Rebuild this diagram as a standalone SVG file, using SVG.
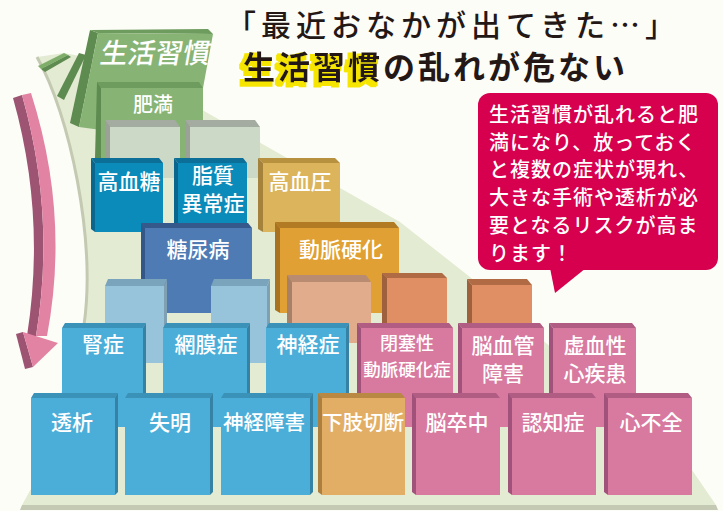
<svg xmlns="http://www.w3.org/2000/svg" width="723" height="511" viewBox="0 0 723 511">
<style>
text{font-family:"Noto Sans CJK JP","Noto Sans",sans-serif}
.t{fill:#fff;font-weight:500;text-anchor:middle;dominant-baseline:central;font-size:21px}
.bl .f{fill:#4baed8}.bl .tp{fill:#3a92b8}.bl .s{fill:#3682a4}
.tl .f{fill:#0a8bb9}.tl .tp{fill:#0b6f97}.tl .s{fill:#0a668c}
.pk .f{fill:#d879a0}.pk .tp{fill:#b05c83}.pk .s{fill:#a0527a}
.og .f{fill:#df8f63}.og .tp{fill:#b06b45}.og .s{fill:#9f603d}
.sm .f{fill:#e0ac8b}.sm .tp{fill:#b98c71}.sm .s{fill:#a88067}
.lb .f{fill:#97c3db}.lb .tp{fill:#7aa4bb}.lb .s{fill:#7f9fb3}
.gy .f{fill:#cdd9c7}.gy .tp{fill:#a4aba0}.gy .s{fill:#9ba196}
.gr .f{fill:#87b475}.gr .tp{fill:#6e9c5e}.gr .s{fill:#5e8b4f}
.ttl{fill:#231815;dominant-baseline:central}
</style>
<defs>
<filter id="hl" x="-10%" y="-30%" width="120%" height="160%">
<feMorphology in="SourceAlpha" operator="dilate" radius="1.6" result="d"/>
<feOffset in="d" dx="-3" dy="3" result="o"/>
<feFlood flood-color="#f6e500"/>
<feComposite in2="o" operator="in" result="y"/>
<feMerge><feMergeNode in="y"/><feMergeNode in="SourceGraphic"/></feMerge>
</filter>
</defs>
<rect width="723" height="511" fill="#fdfdf8"/>
<!-- platform -->
<g id="platform">
<path d="M37,57 L64,53 L85,57 L100,60 L190,103 L400,222 L470,277 L692,470 L716,505 L22,505 L32,487 L62,390 L84,325 C96,240 70,115 37,57 Z" fill="#e3ebd2"/>
<path d="M37,57 C70,115 96,240 84,325" fill="none" stroke="#c4cab2" stroke-width="3"/>
<polygon points="22,505 716,505 718,510 20,510" fill="#c3c9b3"/>
</g>
<!-- connectors -->
<g id="connectors">
<path d="M13,98 L22,95 Q56,215 36,336 L27,336 Q46,215 13,98 Z" fill="#9c5472"/>
<path d="M22,95 L31,93 Q70,215 47,336 L36,336 Q56,215 22,95 Z" fill="#e283a3"/>
<polygon points="16,334 23,332 33,367 25,369" fill="#9c5472"/>
<polygon points="23,332 58,343 33,367" fill="#e283a3"/>
</g>
<!-- top green -->
<g id="n-seikatsu" class="gr">
<polygon points="38,66 64,53 68,55 41,69" fill="#7fae6b"/>
<polygon class="s" points="41,69 68,55 71,57 45,72"/>
<polygon class="s" points="57,96 79,53 86,55 64,100"/>
<polygon class="s" points="90,30 98,33 79,127 70,123"/>
<polygon class="tp" points="90,30 208,29 213,34 98,33"/>
<polygon class="f" points="98,33 213,34 203,88 101,88 101,130 79,127"/>
<text class="t" transform="translate(156,51) skewX(-10)" style="font-size:27.5px">生活習慣</text>
</g>
<g id="n-himan" class="gr">
<polygon class="tp" points="101,88 97,82 199,82 203,88"/>
<polygon class="s" points="101,88 97,82 95,158 101,160"/>
<rect class="f" x="101" y="88" width="102" height="72"/>
<text class="t" x="153" y="103" style="font-size:20px">肥満</text>
</g>
<g id="n-grey1" class="gy">
<polygon class="tp" points="110,127 105,120 175,120 180,127"/>
<polygon class="s" points="110,127 105,120 105,175 110,178"/>
<rect class="f" x="110" y="127" width="70" height="51"/>
</g>
<g id="n-grey2" class="gy">
<polygon class="tp" points="190,127 185,120 255,120 260,127"/>
<polygon class="s" points="190,127 185,120 185,175 190,178"/>
<rect class="f" x="190" y="127" width="70" height="51"/>
</g>
<!-- row 2 -->
<g id="n-kouketsutou" class="tl">
<polygon class="tp" points="95,163 91,158 159,158 163,163"/>
<polygon class="s" points="95,163 91,158 91,229 95,232"/>
<rect class="f" x="95" y="163" width="68" height="69"/>
<text class="t" x="129" y="180">高血糖</text>
</g>
<g id="n-shishitsu" class="tl">
<polygon class="tp" points="178,163 174,158 243,158 247,163"/>
<polygon class="s" points="178,163 174,158 174,229 178,232"/>
<rect class="f" x="178" y="163" width="69" height="69"/>
<text class="t" x="213" y="174">脂質</text>
<text class="t" x="213" y="202">異常症</text>
</g>
<g id="n-kouketsuatsu">
<polygon points="263,163 258,158 335,158 340,163" fill="#b8913f"/>
<polygon points="263,163 258,158 258,229 263,232" fill="#a5823c"/>
<rect x="263" y="163" width="77" height="69" fill="#dbb45c"/>
<text class="t" x="300" y="180">高血圧</text>
</g>
<!-- row 3 -->
<g id="n-tounyoubyou">
<polygon points="145,228 141,223 248,223 252,228" fill="#36598c"/>
<polygon points="145,228 141,223 141,310 145,313" fill="#34578a"/>
<rect x="145" y="228" width="107" height="85" fill="#4f7bb5"/>
<text class="t" x="198" y="248">糖尿病</text>
</g>
<g id="n-doumyakukouka">
<polygon points="280,228 275,222 394,222 399,228" fill="#b27a22"/>
<polygon points="280,228 275,222 275,310 280,313" fill="#a87220"/>
<rect x="280" y="228" width="119" height="85" fill="#e0a033"/>
<text class="t" x="341" y="248">動脈硬化</text>
</g>
<!-- back blocks -->
<g id="n-back1" class="lb">
<polygon class="tp" points="105,286 108,279 167,279 164,286"/>
<polygon class="s" points="164,286 167,279 167,360 164,363"/>
<rect class="f" x="105" y="286" width="59" height="77"/>
</g>
<g id="n-back2" class="lb">
<polygon class="tp" points="211,286 214,279 270,279 267,286"/>
<polygon class="s" points="267,286 270,279 270,360 267,363"/>
<rect class="f" x="211" y="286" width="56" height="77"/>
</g>
<g id="n-back3" class="sm">
<polygon class="tp" points="292,282 287,275 366,275 371,282"/>
<polygon class="s" points="292,282 287,275 287,340 292,343"/>
<rect class="f" x="292" y="282" width="79" height="61"/>
</g>
<g id="n-back4" class="og">
<polygon class="tp" points="387,278 382,273 442,273 447,278"/>
<polygon class="s" points="387,278 382,273 382,340 387,343"/>
<rect class="f" x="387" y="278" width="60" height="65"/>
</g>
<g id="n-back5" class="og">
<polygon class="tp" points="472,285 467,279 527,279 532,285"/>
<polygon class="s" points="472,285 467,279 467,340 472,343"/>
<rect class="f" x="472" y="285" width="60" height="58"/>
</g>
<!-- middle row -->
<g id="n-jinshou" class="bl">
<polygon class="tp" points="62,328 65,323 146,323 143,328"/>
<polygon class="s" points="143,328 146,323 146,424 143,427"/>
<rect class="f" x="62" y="328" width="81" height="99"/>
<text class="t" x="103" y="343">腎症</text>
</g>
<g id="n-moumakushou" class="bl">
<polygon class="tp" points="163,328 166,323 250,323 247,328"/>
<polygon class="s" points="247,328 250,323 250,424 247,427"/>
<rect class="f" x="163" y="328" width="84" height="99"/>
<text class="t" x="206" y="343">網膜症</text>
</g>
<g id="n-shinkeishou" class="bl">
<polygon class="tp" points="266,328 269,323 349,323 346,328"/>
<polygon class="s" points="346,328 349,323 349,424 346,427"/>
<rect class="f" x="266" y="328" width="80" height="99"/>
<text class="t" x="308" y="343">神経症</text>
</g>
<g id="n-heisokusei" class="pk">
<polygon class="tp" points="361,328 357,323 449,323 453,328"/>
<polygon class="s" points="361,328 357,323 357,424 361,427"/>
<rect class="f" x="361" y="328" width="92" height="99"/>
<text class="t" x="407" y="342" style="font-size:18px">閉塞性</text>
<text class="t" x="407" y="368" style="font-size:17.5px">動脈硬化症</text>
</g>
<g id="n-noukekkan" class="pk">
<polygon class="tp" points="462,328 458,323 540,323 544,328"/>
<polygon class="s" points="462,328 458,323 458,424 462,427"/>
<rect class="f" x="462" y="328" width="82" height="99"/>
<text class="t" x="503" y="344">脳血管</text>
<text class="t" x="503" y="372">障害</text>
</g>
<g id="n-kyoketsusei" class="pk">
<polygon class="tp" points="553,328 549,323 632,323 636,328"/>
<polygon class="s" points="553,328 549,323 549,424 553,427"/>
<rect class="f" x="553" y="328" width="83" height="99"/>
<text class="t" x="595" y="344">虚血性</text>
<text class="t" x="595" y="372">心疾患</text>
</g>
<!-- bottom row -->
<g id="n-touseki" class="bl">
<polygon class="tp" points="31,398 34,393 118,393 115,398"/>
<polygon class="s" points="115,398 118,393 118,492 115,495"/>
<rect class="f" x="31" y="398" width="84" height="97"/>
<text class="t" x="72" y="421">透析</text>
</g>
<g id="n-shitsumei" class="bl">
<polygon class="tp" points="125,398 128,393 213,393 210,398"/>
<polygon class="s" points="210,398 213,393 213,492 210,495"/>
<rect class="f" x="125" y="398" width="85" height="97"/>
<text class="t" x="170" y="421">失明</text>
</g>
<g id="n-shinkeishougai" class="bl">
<polygon class="tp" points="221,398 224,393 313,393 310,398"/>
<polygon class="s" points="310,398 313,393 313,492 310,495"/>
<rect class="f" x="221" y="398" width="89" height="97"/>
<text class="t" x="264" y="421" style="font-size:20.5px">神経障害</text>
</g>
<g id="n-kashisetsudan">
<polygon points="322,398 318,393 401,393 405,398" fill="#b98843"/>
<polygon points="322,398 318,393 318,492 322,495" fill="#ad7f3e"/>
<rect x="322" y="398" width="83" height="97" fill="#e2ae65"/>
<text class="t" x="363" y="421" style="font-size:20.5px">下肢切断</text>
</g>
<g id="n-nousocchuu" class="pk">
<polygon class="tp" points="416,398 412,393 496,393 500,398"/>
<polygon class="s" points="416,398 412,393 412,492 416,495"/>
<rect class="f" x="416" y="398" width="84" height="97"/>
<text class="t" x="457" y="421">脳卒中</text>
</g>
<g id="n-ninchishou" class="pk">
<polygon class="tp" points="512,398 508,393 592,393 596,398"/>
<polygon class="s" points="512,398 508,393 508,492 512,495"/>
<rect class="f" x="512" y="398" width="84" height="97"/>
<text class="t" x="553" y="421">認知症</text>
</g>
<g id="n-shinfuzen" class="pk">
<polygon class="tp" points="608,398 604,393 688,393 692,398"/>
<polygon class="s" points="608,398 604,393 604,492 608,495"/>
<rect class="f" x="608" y="398" width="84" height="97"/>
<text class="t" x="651" y="421">心不全</text>
</g>
<!-- title -->
<g id="title">
<text class="ttl" x="226" y="23" style="font-size:30px;letter-spacing:5px;font-weight:500">「最近おなかが出てきた…」</text>
<text class="ttl" x="243" y="65" filter="url(#hl)" style="font-size:32px;letter-spacing:3px;font-weight:700">生活習慣</text>
<text class="ttl" x="383" y="65" style="font-size:32px;letter-spacing:3px;font-weight:700">の乱れが危ない</text>
</g>
<!-- bubble -->
<g id="bubble">
<rect x="478" y="93" width="240" height="177" rx="12" fill="#d6004f"/>
<polygon points="550,268 555,293 586,268" fill="#d6004f"/>
<g style="font-size:20px;letter-spacing:1px;font-weight:500;dominant-baseline:central" fill="#fff">
<text x="489" y="113">生活習慣が乱れると肥</text>
<text x="489" y="141">満になり、放っておく</text>
<text x="489" y="168">と複数の症状が現れ、</text>
<text x="489" y="196">大きな手術や透析が必</text>
<text x="489" y="224">要となるリスクが高ま</text>
<text x="489" y="252">ります！</text>
</g>
</g>
</svg>
